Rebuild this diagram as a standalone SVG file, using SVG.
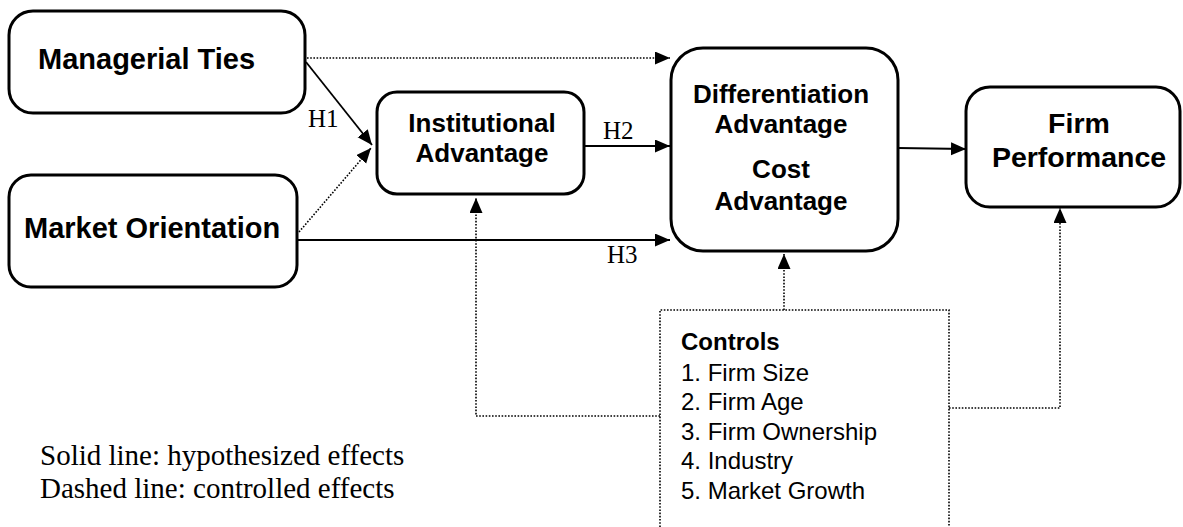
<svg xmlns="http://www.w3.org/2000/svg" width="1183" height="527" viewBox="0 0 1183 527">
<style>
.box{fill:#fff;stroke:#000;stroke-width:3}
.lbl{font-family:"Liberation Sans",Arial,sans-serif;font-weight:bold;fill:#000}
.solid{fill:none;stroke:#000;stroke-width:1.8}
.dot{fill:none;stroke:#000;stroke-width:1.6;stroke-dasharray:1.6 1.6}
.h{font-family:"Liberation Serif","Times New Roman",serif;font-size:25px;fill:#000}
.leg{font-family:"Liberation Serif","Times New Roman",serif;font-size:29px;fill:#000}
.ctl{font-family:"Liberation Sans",Arial,sans-serif;font-size:24px;fill:#000}
</style>
<defs>
<marker id="ah" markerUnits="userSpaceOnUse" markerWidth="16" markerHeight="14" refX="15" refY="6.5" orient="auto">
<path d="M0,0 L15,6.5 L0,13 z" fill="#000"/>
</marker>
</defs>
<rect width="1183" height="527" fill="#fff"/>
<g id="connectors">
<line class="dot" x1="307" y1="58" x2="670" y2="58" marker-end="url(#ah)"/>
<line class="solid" x1="306" y1="62" x2="372" y2="145" marker-end="url(#ah)"/>
<line class="dot" x1="299" y1="232" x2="371" y2="148" marker-end="url(#ah)"/>
<line class="solid" x1="584" y1="146" x2="670" y2="146" marker-end="url(#ah)"/>
<line class="solid" x1="298" y1="240" x2="670" y2="240" marker-end="url(#ah)"/>
<line class="solid" x1="898" y1="148" x2="966" y2="149" marker-end="url(#ah)"/>
<polyline class="dot" points="660,527 660,310 949,310 949,527"/>
<line class="dot" x1="784" y1="310" x2="784" y2="254" marker-end="url(#ah)"/>
<polyline class="dot" points="660,416 476,416 476,198" marker-end="url(#ah)"/>
<polyline class="dot" points="949,408 1060,408 1060,208" marker-end="url(#ah)"/>
<text class="h" x="308" y="127">H1</text>
<text class="h" x="603" y="139">H2</text>
<text class="h" x="607" y="263">H3</text>
</g>
<g id="managerial-ties">
<rect class="box" x="9" y="11" width="296" height="102" rx="24"/>
<text class="lbl" x="38" y="69" font-size="29">Managerial Ties</text>
</g>
<g id="market-orientation">
<rect class="box" x="9" y="175" width="288" height="112" rx="22"/>
<text class="lbl" x="24" y="238" font-size="29">Market Orientation</text>
</g>
<g id="institutional-advantage">
<rect class="box" x="377" y="92" width="207" height="102" rx="20"/>
<text class="lbl" x="482" y="132" font-size="26" text-anchor="middle">Institutional</text>
<text class="lbl" x="482" y="162" font-size="26" text-anchor="middle">Advantage</text>
</g>
<g id="competitive-advantage">
<rect class="box" x="671" y="48" width="227" height="203" rx="32"/>
<text class="lbl" x="781" y="103" font-size="26" text-anchor="middle">Differentiation</text>
<text class="lbl" x="781" y="133" font-size="26" text-anchor="middle">Advantage</text>
<text class="lbl" x="781" y="178" font-size="26" text-anchor="middle">Cost</text>
<text class="lbl" x="781" y="210" font-size="26" text-anchor="middle">Advantage</text>
</g>
<g id="firm-performance">
<rect class="box" x="966" y="87" width="214" height="120" rx="24"/>
<text class="lbl" x="1079" y="133" font-size="28.5" text-anchor="middle">Firm</text>
<text class="lbl" x="1079" y="167" font-size="28.5" text-anchor="middle">Performance</text>
</g>
<g id="controls">
<text class="ctl" x="681" y="350" font-weight="bold">Controls</text>
<text class="ctl" x="681" y="381">1. Firm Size</text>
<text class="ctl" x="681" y="410">2. Firm Age</text>
<text class="ctl" x="681" y="440">3. Firm Ownership</text>
<text class="ctl" x="681" y="469">4. Industry</text>
<text class="ctl" x="681" y="499">5. Market Growth</text>
</g>
<g id="legend">
<text class="leg" x="40" y="465">Solid line: hypothesized effects</text>
<text class="leg" x="40" y="498">Dashed line: controlled effects</text>
</g>
</svg>
